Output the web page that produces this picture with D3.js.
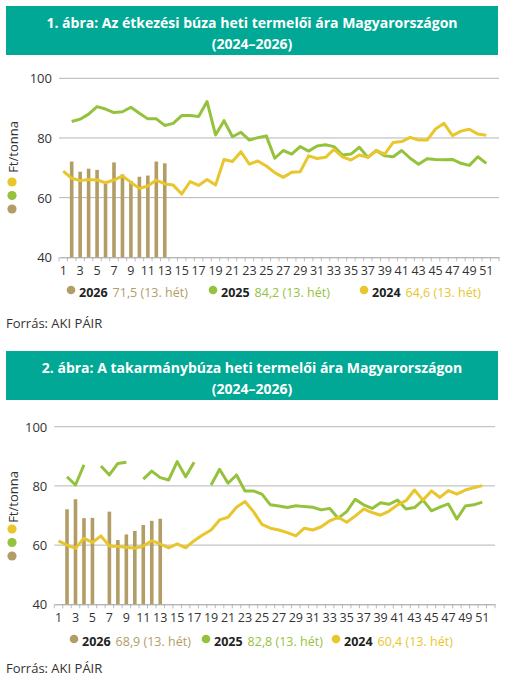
<!DOCTYPE html>
<html>
<head>
<meta charset="utf-8">
<script src="https://cdn.jsdelivr.net/npm/d3@7"></script>
<style>
body { margin: 0; background: #fff; }
text { font-family: "Open Sans", sans-serif; }
</style>
</head>
<body>
<script>
// Weeks on the x axis
var weeks = d3.range(1, 53)
var yTicks = [40, 60, 80, 100]

// 1. ábra - étkezési búza (null = no data)
var food2026 = [null, 72.1, 68.7, 69.7, 69.3, 64.8, 71.8, 67.8, 65.6, 67.0, 67.4, 72.1, 71.5]
var food2025 = [null, 85.5, 86.3, 88.0, 90.5, 89.7, 88.5, 88.8, 90.3, 88.3, 86.4, 86.4, 84.2,
	84.9, 87.5, 87.5, 87.2, 92.2, 81.0, 85.8, 80.4, 81.9, 79.3, 80.1, 80.7, 73.2, 75.8, 74.6,
	77.1, 75.6, 77.3, 77.7, 77.1, 74.3, 74.6, 76.9, 73.5, 75.8, 74.0, 73.7, 75.8, 73.2, 71.2,
	73.0, 72.8, 72.7, 72.8, 71.5, 70.8, 73.7, 71.5]
var food2024 = [68.9, 66.5, 65.7, 66.1, 65.9, 65.0, 65.9, 67.3, 65.1, 63.1, 63.9, 65.9, 64.6,
	64.2, 61.2, 65.4, 64.1, 66.1, 64.2, 72.8, 72.1, 75.4, 71.2, 72.3, 70.6, 68.4, 66.8, 68.5,
	68.7, 74.0, 73.1, 73.5, 76.2, 73.7, 72.6, 74.3, 73.5, 75.8, 74.6, 78.5, 78.8, 80.2, 79.3,
	79.3, 83.0, 84.9, 80.8, 82.3, 82.9, 81.3, 80.9]

// 2. ábra - takarmánybúza
var feed2026 = [null, 72.1, 75.5, 69.1, 69.2, null, 71.3, 61.7, 63.6, 64.8, 66.8, 68.2, 68.9]
var feed2025 = [null, 83.1, 80.3, 87.1, null, 86.7, 83.7, 87.6, 88.0, null, 82.3, 85.0, 82.8,
	82.0, 88.2, 83.1, 88.0, null, 80.3, 85.6, 80.9, 83.7, 78.3, 78.3, 77.2, 73.6, 73.2, 72.7,
	73.3, 73.0, 72.8, 71.9, 72.4, 69.1, 71.3, 75.5, 73.6, 72.4, 74.3, 73.8, 75.2, 72.2, 72.7,
	75.2, 71.6, 72.8, 73.9, 68.8, 73.2, 73.6, 74.5]
var feed2024 = [61.4, 60.0, 58.9, 62.3, 60.9, 63.1, 59.7, 59.5, 59.3, 58.9, 59.7, 61.5, 60.4,
	59.1, 60.4, 59.1, 61.5, 63.4, 65.1, 68.5, 69.4, 72.8, 74.7, 71.3, 67.0, 65.7, 65.1, 64.2,
	63.1, 65.7, 65.1, 66.2, 68.2, 69.4, 67.7, 69.8, 72.2, 71.0, 70.1, 71.5, 73.6, 75.0, 78.6,
	75.2, 78.3, 76.1, 78.4, 77.2, 78.6, 79.4, 80.1]

var colors = {c2026: '#b29d67', c2025: '#95c23d', c2024: '#e8c62c'}

var svg = d3.select('body').append('svg')
	.attr('width', 510)
	.attr('height', 685)

function drawChart(c) {
	var g = svg.append('g')

	// Title box
	g.append('rect')
		.attr('x', 6).attr('y', c.boxTop)
		.attr('width', 492).attr('height', 49)
		.attr('fill', '#00a895')
	c.title.forEach(function (t, i) {
		g.append('text')
			.attr('x', 252).attr('y', c.boxTop + 16 + i * 21)
			.attr('text-anchor', 'middle')
			.attr('dominant-baseline', 'central')
			.attr('fill', '#fff')
			.attr('font-weight', 'bold')
			.attr('font-size', '14px')
			.text(t)
	})

	var x = d3.scaleBand().domain(weeks).range([c.left, c.right]).padding(0)
	var y = d3.scaleLinear().domain([40, 100]).range([c.bottom, c.top])
	var cx = function (w) { return x(w) + x.bandwidth() / 2 }

	// grid
	g.selectAll('.grid').data(yTicks.slice(1)).enter().append('line')
		.attr('x1', c.left).attr('x2', c.right)
		.attr('y1', function (d) { return y(d) }).attr('y2', function (d) { return y(d) })
		.attr('stroke', '#b5b5b5').attr('stroke-width', 1)

	// y labels
	g.selectAll('.ylab').data(yTicks).enter().append('text')
		.attr('x', c.left - 7).attr('y', function (d) { return y(d) })
		.attr('text-anchor', 'end').attr('dominant-baseline', 'central')
		.attr('font-size', '13px').attr('fill', '#333')
		.text(function (d) { return d })

	// x axis
	var xAxis = d3.axisBottom(x)
		.tickValues(weeks.filter(function (w) { return w % 2 == 1 && w < 52 }))
		.tickSize(0).tickPadding(9)
	var ax = g.append('g').attr('transform', 'translate(0,' + c.bottom + ')').call(xAxis)
	ax.select('.domain').attr('stroke', '#999')
	ax.selectAll('text').attr('font-size', '12.5px').attr('fill', '#333')
		.attr('font-family', '"Open Sans", sans-serif')
	// small tick marks at band edges
	g.selectAll('.tk').data(weeks.concat([53])).enter().append('line')
		.attr('x1', function (d) { return d == 53 ? c.right : x(d) })
		.attr('x2', function (d) { return d == 53 ? c.right : x(d) })
		.attr('y1', c.bottom).attr('y2', c.bottom + 4)
		.attr('stroke', '#aaa').attr('stroke-width', 0.8)

	// bars 2026
	var barData = c.s2026.map(function (v, i) { return {w: i + 1, v: v} })
		.filter(function (d) { return d.v != null })
	g.selectAll('.bar').data(barData).enter().append('rect')
		.attr('x', function (d) { return cx(d.w) - 1.8 })
		.attr('width', 3.6)
		.attr('y', function (d) { return y(d.v) })
		.attr('height', function (d) { return c.bottom - y(d.v) })
		.attr('fill', colors.c2026)

	var line = d3.line()
		.defined(function (d) { return d != null })
		.x(function (d, i) { return cx(i + 1) })
		.y(function (d) { return y(d) })

	g.append('path').datum(c.s2025).attr('d', line)
		.attr('fill', 'none').attr('stroke', colors.c2025).attr('stroke-width', 3)
		.attr('stroke-linejoin', 'round')
	g.append('path').datum(c.s2024).attr('d', line)
		.attr('fill', 'none').attr('stroke', colors.c2024).attr('stroke-width', 3)
		.attr('stroke-linejoin', 'round')

	// y axis title with coloured dots
	g.append('text')
		.attr('transform', 'translate(13,' + c.unitY + ') rotate(-90)')
		.attr('text-anchor', 'middle').attr('dominant-baseline', 'central')
		.attr('font-size', '13px').attr('fill', '#333')
		.text('Ft/tonna')
	;[colors.c2024, colors.c2025, colors.c2026].forEach(function (col, i) {
		g.append('circle').attr('cx', 12).attr('cy', c.dotY + i * 13.5).attr('r', 4.6).attr('fill', col)
	})

	// legend
	var leg = g.selectAll('.leg').data(c.legend).enter().append('g')
		.attr('transform', function (d) { return 'translate(' + d.x + ',' + c.legY + ')' })
	leg.append('circle').attr('r', 4.3).attr('cy', -2).attr('fill', function (d) { return d.col })
	var lt = leg.append('text').attr('x', 8).attr('dominant-baseline', 'central')
		.attr('font-size', '12.5px')
	lt.append('tspan').attr('font-weight', 'bold').attr('fill', '#222')
		.text(function (d) { return d.year })
	lt.append('tspan').attr('dx', 5).attr('fill', function (d) { return d.col })
		.text(function (d) { return d.label })

	g.append('text').attr('x', 6).attr('y', c.srcY)
		.attr('dominant-baseline', 'central')
		.attr('font-size', '13px').attr('fill', '#333')
		.text('Forrás: AKI PÁIR')
}

drawChart({
	title: ['1. ábra: Az étkezési búza heti termelői ára Magyarországon', '(2024–2026)'],
	boxTop: 6, left: 59, right: 499, top: 78.3, bottom: 257.3,
	s2026: food2026, s2025: food2025, s2024: food2024,
	unitY: 147, dotY: 182, legY: 292, srcY: 323,
	legend: [
		{x: 71, year: '2026', label: '71,5 (13. hét)', col: colors.c2026},
		{x: 213, year: '2025', label: '84,2 (13. hét)', col: colors.c2025},
		{x: 364, year: '2024', label: '64,6 (13. hét)', col: colors.c2024}
	]
})

drawChart({
	title: ['2. ábra: A takarmánybúza heti termelői ára Magyarországon', '(2024–2026)'],
	boxTop: 351, left: 54.3, right: 495, top: 426.7, bottom: 604.3,
	s2026: feed2026, s2025: feed2025, s2024: feed2024,
	unitY: 497, dotY: 529, legY: 641, srcY: 668,
	legend: [
		{x: 74, year: '2026', label: '68,9 (13. hét)', col: colors.c2026},
		{x: 206, year: '2025', label: '82,8 (13. hét)', col: colors.c2025},
		{x: 336, year: '2024', label: '60,4 (13. hét)', col: colors.c2024}
	]
})
</script>
</body>
</html>
